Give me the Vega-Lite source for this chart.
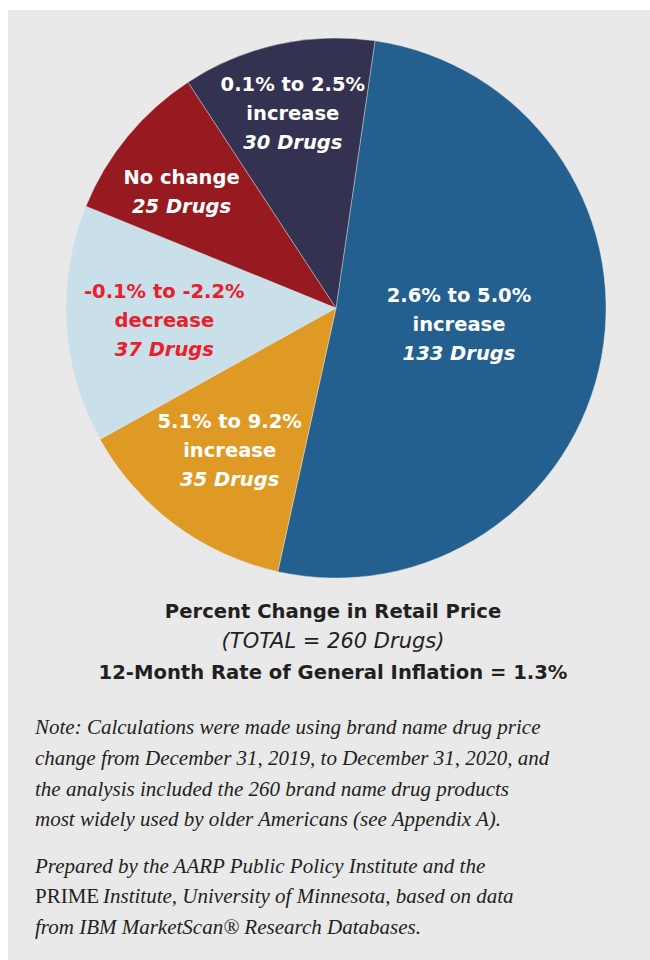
{
  "$schema": "https://vega.github.io/schema/vega-lite/v6.json",
  "background": "#ffffff",
  "padding": {"left": 8, "top": 10, "right": 0, "bottom": 0},
  "spacing": 0,
  "config": {"view": {"fill": "#e9e9e9", "stroke": null}},
  "datasets": {
    "slices": [
      {"order": 1, "line1": "2.6% to 5.0%", "line2": "increase", "drugs": 133, "line3": "133 Drugs"},
      {"order": 2, "line1": "5.1% to 9.2%", "line2": "increase", "drugs": 35, "line3": "35 Drugs"},
      {"order": 3, "line1": "-0.1% to -2.2%", "line2": "decrease", "drugs": 37, "line3": "37 Drugs"},
      {"order": 4, "line1": "", "line2": "No change", "drugs": 25, "line3": "25 Drugs"},
      {"order": 5, "line1": "0.1% to 2.5%", "line2": "increase", "drugs": 30, "line3": "30 Drugs"}
    ],
    "caption": [
      {"line": 1, "text": "Percent Change in Retail Price"},
      {"line": 2, "text": "(TOTAL = 260 Drugs)"},
      {"line": 3, "text": "12-Month Rate of General Inflation = 1.3%"}
    ],
    "note": [
      {"line": 1, "text": "Note: Calculations were made using brand name drug price"},
      {"line": 2, "text": "change from December 31, 2019, to December 31, 2020, and"},
      {"line": 3, "text": "the analysis included the 260 brand name drug products"},
      {"line": 4, "text": "most widely used by older Americans (see Appendix A)."}
    ],
    "source": [
      {"line": 1, "lead": "", "text": "Prepared by the AARP Public Policy Institute and the"},
      {"line": 2, "lead": "PRIME", "text": "Institute, University of Minnesota, based on data"},
      {"line": 3, "lead": "", "text": "from IBM MarketScan® Research Databases."}
    ]
  },
  "vconcat": [
    {
      "width": 642,
      "height": 570,
      "data": {"name": "slices"},
      "encoding": {
        "theta": {"field": "drugs", "type": "quantitative", "stack": true, "scale": {"range": [0.1449, 6.4281]}},
        "order": {"field": "order", "type": "quantitative"},
        "x": {"datum": 0, "type": "quantitative", "scale": {"domain": [-328, 314]}, "axis": null},
        "y": {"datum": 0, "type": "quantitative", "scale": {"domain": [-272, 298]}, "axis": null}
      },
      "layer": [
        {
          "mark": {"type": "arc", "outerRadius": 270, "stroke": "#e9e9e9", "strokeWidth": 0.4},
          "encoding": {
            "color": {"field": "order", "type": "nominal", "legend": null,
              "scale": {"domain": [1, 2, 3, 4, 5], "range": ["#23608f", "#df9a26", "#c9dfea", "#961a20", "#333250"]}}
          }
        },
        {
          "mark": {"type": "text", "font": "DejaVu Sans", "fontWeight": "bold", "fontSize": 19.5, "baseline": "middle",
            "dy": {"expr": "-29 + (datum.order === 1 ? -6 : datum.order === 3 ? 3 : datum.order === 4 ? -3 : datum.order === 5 ? 1 : 0)"},
            "radius": {"expr": "datum.order === 1 ? 125 : datum.order === 2 ? 178 : datum.order === 3 ? 172 : 200"}},
          "encoding": {
            "detail": {"field": "order", "type": "nominal"},
            "text": {"field": "line1", "type": "nominal"},
            "color": {"condition": {"test": "datum.order === 3", "value": "#e8202a"}, "value": "#ffffff"}
          }
        },
        {
          "mark": {"type": "text", "font": "DejaVu Sans", "fontWeight": "bold", "fontSize": 19.5, "baseline": "middle",
            "dy": {"expr": "0 + (datum.order === 1 ? -6 : datum.order === 3 ? 3 : datum.order === 4 ? -3 : datum.order === 5 ? 1 : 0)"},
            "radius": {"expr": "datum.order === 1 ? 125 : datum.order === 2 ? 178 : datum.order === 3 ? 172 : 200"}},
          "encoding": {
            "detail": {"field": "order", "type": "nominal"},
            "text": {"field": "line2", "type": "nominal"},
            "color": {"condition": {"test": "datum.order === 3", "value": "#e8202a"}, "value": "#ffffff"}
          }
        },
        {
          "mark": {"type": "text", "font": "DejaVu Sans", "fontWeight": "bold", "fontStyle": "italic", "fontSize": 19.5, "baseline": "middle",
            "dy": {"expr": "29 + (datum.order === 1 ? -6 : datum.order === 3 ? 3 : datum.order === 4 ? -3 : datum.order === 5 ? 1 : 0)"},
            "radius": {"expr": "datum.order === 1 ? 125 : datum.order === 2 ? 178 : datum.order === 3 ? 172 : 200"}},
          "encoding": {
            "detail": {"field": "order", "type": "nominal"},
            "text": {"field": "line3", "type": "nominal"},
            "color": {"condition": {"test": "datum.order === 3", "value": "#e8202a"}, "value": "#ffffff"}
          }
        }
      ]
    },
    {
      "width": 642,
      "height": 120,
      "data": {"name": "caption"},
      "encoding": {
        "x": {"datum": -3, "type": "quantitative", "scale": {"domain": [-328, 314]}, "axis": null},
        "y": {"field": "line", "type": "ordinal", "axis": null, "scale": {"type": "point", "domain": [1, 2, 3], "padding": 0.967, "align": 0.542}},
        "text": {"field": "text", "type": "nominal"}
      },
      "layer": [
        {
          "transform": [{"filter": "datum.line !== 2"}],
          "mark": {"type": "text", "font": "DejaVu Sans", "fontWeight": "bold", "fontSize": 19.6, "baseline": "middle", "color": "#231f20"}
        },
        {
          "transform": [{"filter": "datum.line === 2"}],
          "mark": {"type": "text", "font": "DejaVu Sans", "fontWeight": "normal", "fontStyle": "italic", "fontSize": 21, "baseline": "middle", "color": "#231f20"}
        }
      ]
    },
    {
      "width": 642,
      "height": 145,
      "data": {"name": "note"},
      "mark": {"type": "text", "font": "Liberation Serif", "fontStyle": "italic", "fontSize": 21, "align": "left", "baseline": "middle", "color": "#231f20"},
      "encoding": {
        "x": {"datum": -301, "type": "quantitative", "scale": {"domain": [-328, 314]}, "axis": null},
        "y": {"field": "line", "type": "ordinal", "axis": null, "scale": {"type": "point", "domain": [1, 2, 3, 4], "padding": 0.854, "align": 0.532}},
        "text": {"field": "text", "type": "nominal"}
      }
    },
    {
      "width": 642,
      "height": 115,
      "data": {"name": "source"},
      "encoding": {
        "x": {"datum": -301, "type": "quantitative", "scale": {"domain": [-328, 314]}, "axis": null},
        "y": {"field": "line", "type": "ordinal", "axis": null, "scale": {"type": "point", "domain": [1, 2, 3], "padding": 0.885, "align": 0.407}}
      },
      "layer": [
        {
          "transform": [{"filter": "datum.lead === ''"}],
          "mark": {"type": "text", "font": "Liberation Serif", "fontStyle": "italic", "fontSize": 21, "align": "left", "baseline": "middle", "color": "#231f20"},
          "encoding": {"text": {"field": "text", "type": "nominal"}}
        },
        {
          "transform": [{"filter": "datum.lead !== ''"}],
          "mark": {"type": "text", "font": "Liberation Serif", "fontSize": 21, "align": "left", "baseline": "middle", "color": "#231f20"},
          "encoding": {"text": {"field": "lead", "type": "nominal"}}
        },
        {
          "transform": [{"filter": "datum.lead !== ''"}],
          "mark": {"type": "text", "font": "Liberation Serif", "fontStyle": "italic", "fontSize": 21, "align": "left", "baseline": "middle", "color": "#231f20", "dx": 68},
          "encoding": {"text": {"field": "text", "type": "nominal"}}
        }
      ]
    }
  ]
}
